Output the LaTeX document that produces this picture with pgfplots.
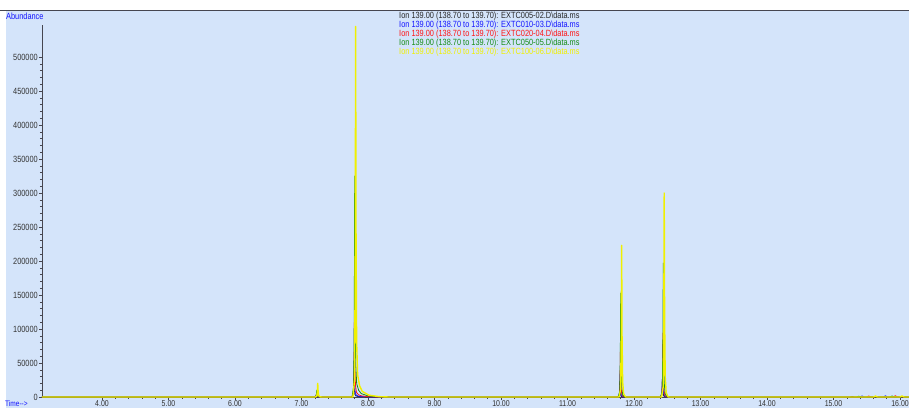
\documentclass[border=0pt]{standalone}
\usepackage{fontspec}
\setmainfont{Liberation Sans}[FakeStretch=0.82]
\usepackage{pgfplots}
\pgfplotsset{compat=1.18}
\definecolor{bgblue}{RGB}{212,228,250}
\definecolor{cblack}{RGB}{40,40,40}
\definecolor{cblue}{RGB}{20,20,255}
\definecolor{cred}{RGB}{255,20,20}
\definecolor{cgreen}{RGB}{20,140,20}
\definecolor{cyellow}{RGB}{240,240,0}
\definecolor{axgray}{RGB}{70,70,80}

\begin{document}
\begin{tikzpicture}
\fill[bgblue] (-36pt,-11pt) rectangle (867pt,387pt);
\draw[axgray, line width=0.8pt] (-42pt,387pt) -- (867pt,387pt);
\begin{axis}[
    scale only axis,
    width=867pt, height=372pt,
    xmin=3.098, xmax=16.135,
    ymin=0, ymax=547000,
    axis lines*=left,
    axis line style={axgray, line width=0.7pt},
    tick align=outside,
    tick style={axgray, line width=0.5pt},
    major tick length=3pt,
    minor tick length=2pt,
    xtick={4,5,...,16},
    xticklabels={4.00,5.00,6.00,7.00,8.00,9.00,10.00,11.00,12.00,13.00,14.00,15.00,16.00},
    minor x tick num=4,
    ytick={0,50000,...,500000},
    yticklabels={0,50000,100000,150000,200000,250000,300000,350000,400000,450000,500000},
    minor y tick num=4,
    scaled y ticks=false,
    yticklabel style={inner xsep=1pt},
    xticklabel style={inner ysep=0.3pt, font=\fontsize{8.5}{8.5}\selectfont},
    every tick label/.append style={font=\fontsize{9}{9}\selectfont, text=black!80},
    every axis plot/.append style={line width=0.8pt, line join=round},
]
% EXTC005
\addplot[cblack] coordinates {
(3.098,0) (7.178,0) (7.203,75) (7.212,600) (7.218,1500) (7.224,600) (7.233,150) (7.248,30) (7.278,0)
(7.748,0) (7.773,1350) (7.782,10800) (7.788,27000) (7.794,12150) (7.803,4050) (7.818,1620) (7.848,810) (7.888,405) (7.988,135) (8.138,27) (8.288,0)
(11.748,0) (11.773,750) (11.782,6000) (11.788,15000) (11.794,6000) (11.803,1500) (11.818,300) (11.848,0)
(12.388,0) (12.413,1250) (12.422,10000) (12.428,25000) (12.434,10000) (12.443,2500) (12.458,500) (12.488,0)
(15.25,0) (15.28,900) (15.31,0) (15.6,0) (15.63,700) (15.66,0) (16.135,0)};
% EXTC010
\addplot[cblue] coordinates {
(3.098,0) (7.182,0) (7.207,150) (7.216,1200) (7.222,3000) (7.228,1200) (7.237,300) (7.252,60) (7.282,0)
(7.752,0) (7.777,2350) (7.786,18800) (7.792,47000) (7.798,21150) (7.807,7050) (7.822,2820) (7.852,1410) (7.892,705) (7.992,235) (8.142,47) (8.292,0)
(11.752,0) (11.777,1750) (11.786,14000) (11.792,35000) (11.798,14000) (11.807,3500) (11.822,700) (11.852,0)
(12.392,0) (12.417,2750) (12.426,22000) (12.432,55000) (12.438,22000) (12.447,5500) (12.462,1100) (12.492,0)
(15.4,0) (15.43,1500) (15.46,0) (15.75,0) (15.78,1800) (15.81,0) (16.135,0)};
% EXTC020
\addplot[cred] coordinates {
(3.098,0) (7.186,0) (7.211,250) (7.220,2000) (7.226,5000) (7.232,2000) (7.241,500) (7.256,100) (7.286,0)
(7.756,0) (7.781,5800) (7.790,46400) (7.796,116000) (7.802,52200) (7.811,17400) (7.826,6960) (7.856,3480) (7.896,1740) (7.996,580) (8.146,116) (8.296,0)
(11.756,0) (11.781,3600) (11.790,28800) (11.796,72000) (11.802,28800) (11.811,7200) (11.826,1440) (11.856,0)
(12.396,0) (12.421,4700) (12.430,37600) (12.436,94000) (12.442,37600) (12.451,9400) (12.466,1880) (12.496,0)
(15.5,0) (15.53,1400) (15.56,0) (15.9,0) (15.93,2000) (15.96,0) (16.135,0)};
% EXTC050
\addplot[cgreen] coordinates {
(3.098,0) (7.190,0) (7.215,500) (7.224,4000) (7.230,10000) (7.236,4000) (7.245,1000) (7.260,200) (7.290,0)
(7.760,0) (7.785,16250) (7.794,130000) (7.800,325000) (7.806,146250) (7.815,48750) (7.830,19500) (7.860,9750) (7.900,4875) (8.000,1625) (8.150,325) (8.300,0)
(11.760,0) (11.785,7650) (11.794,61200) (11.800,153000) (11.806,61200) (11.815,15300) (11.830,3060) (11.860,0)
(12.400,0) (12.425,9850) (12.434,78800) (12.440,197000) (12.446,78800) (12.455,19700) (12.470,3940) (12.500,0)
(15.35,0) (15.38,1200) (15.41,0) (15.85,0) (15.88,1600) (15.91,0) (16.135,0)};
% EXTC100
\addplot[cyellow, line width=1.4pt] coordinates {
(3.098,0) (7.204,0) (7.229,1000) (7.238,8000) (7.244,20000) (7.250,8000) (7.259,2000) (7.274,400) (7.304,0)
(7.774,0) (7.799,27250) (7.808,218000) (7.814,545000) (7.820,245250) (7.829,81750) (7.844,32700) (7.874,16350) (7.914,8175) (8.014,2725) (8.164,545) (8.314,0)
(11.774,0) (11.799,11150) (11.808,89200) (11.814,223000) (11.820,89200) (11.829,22300) (11.844,4460) (11.874,0)
(12.414,0) (12.439,15000) (12.448,120000) (12.454,300000) (12.460,120000) (12.469,30000) (12.484,6000) (12.514,0)
(15.6,0) (15.63,1300) (15.66,0) (16.0,0) (16.03,1500) (16.06,0) (16.135,0)};
\end{axis}
\node[anchor=west, text=cblue, inner sep=0pt, font=\fontsize{8}{8}\selectfont] at (-37pt,-7pt) {Time-{}-{}>};
\node[anchor=west, text=cblue, inner sep=0pt, font=\fontsize{9}{9}\selectfont] at (-36pt,381pt) {Abundance};
\node[anchor=north west, align=left, inner sep=0pt, font=\fontsize{9}{9}\selectfont] at (357pt,385pt) {%
\textcolor{cblack}{Ion 139.00 (138.70 to 139.70): EXTC005-02.D\symbol{92}data.ms}\\
\textcolor{cblue}{Ion 139.00 (138.70 to 139.70): EXTC010-03.D\symbol{92}data.ms}\\
\textcolor{cred}{Ion 139.00 (138.70 to 139.70): EXTC020-04.D\symbol{92}data.ms}\\
\textcolor{cgreen}{Ion 139.00 (138.70 to 139.70): EXTC050-05.D\symbol{92}data.ms}\\
\textcolor{cyellow}{Ion 139.00 (138.70 to 139.70): EXTC100-06.D\symbol{92}data.ms}};
\pgfresetboundingbox
\useasboundingbox (-42pt,-11pt) rectangle (867pt,397pt);
\end{tikzpicture}
\end{document}
